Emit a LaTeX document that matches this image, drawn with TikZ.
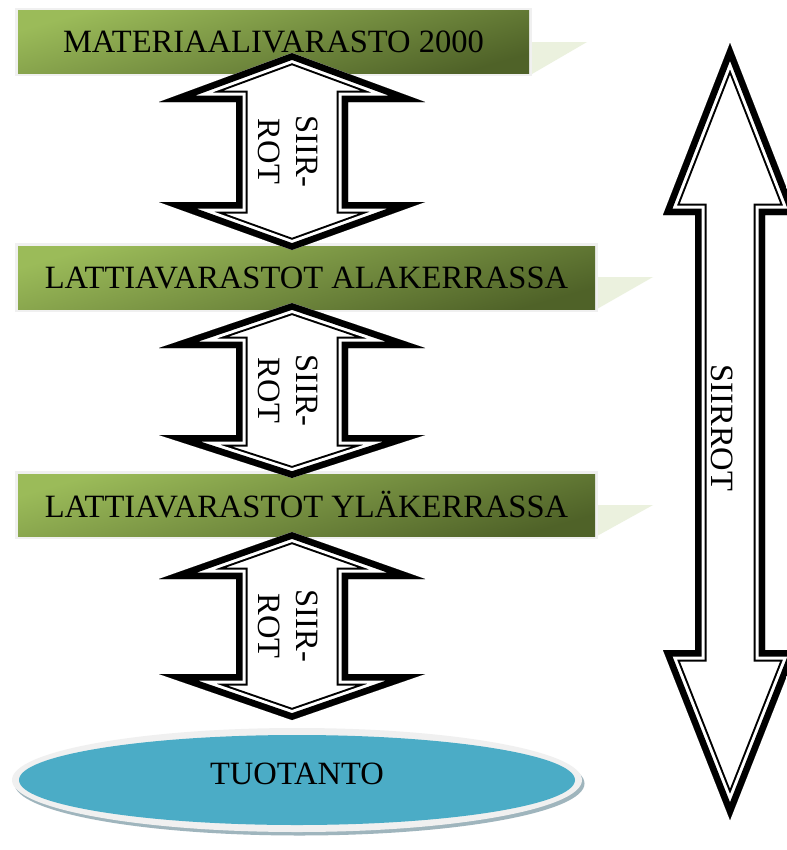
\documentclass[tikz,border=0pt]{standalone}
\usepackage{fontspec}
\setmainfont{Liberation Serif}
\definecolor{glight}{HTML}{9BBB59}
\definecolor{gdark}{HTML}{4F6228}
\definecolor{gpale}{HTML}{EBF1DE}
\definecolor{bordergray}{HTML}{F0F0F0}
\definecolor{ellblue}{HTML}{4BACC6}
\definecolor{shadowblue}{HTML}{9FB5BD}
\tikzset{
  boxborder/.style={fill=bordergray},
  greenfill/.style={top color=glight, bottom color=gdark, shading angle=16},
  boxtext/.style={font=\fontsize{24.4}{29}\selectfont, inner sep=0pt},
  rottext/.style={font=\fontsize{24.4}{29}\selectfont, rotate=-90, align=center, inner sep=0pt},
  palewedge/.style={fill=gpale},
  sharpjoin/.style={line join=miter, miter limit=30}
}
% compound (thick-thin) outline drawn inside the shape
\newcommand\comparrow[1]{%
  \fill[white] #1;
  \begin{scope}
    \clip #1;
    \draw[black, sharpjoin, line width=17.25pt] #1;
    \draw[white, sharpjoin, line width=14.25pt] #1;
    \draw[black, sharpjoin, line width=9.75pt] #1;
  \end{scope}}
% up-down arrow: centre x, top tip, upper head base, lower head base, bottom tip
\newcommand\udarrow[5]{%
  \comparrow{(#1,#2) -- ({#1+133},#3) -- ({#1+56},#3) -- ({#1+56},#4) -- ({#1+133},#4) -- (#1,#5) -- ({#1-133},#4) -- ({#1-56},#4) -- ({#1-56},#3) -- ({#1-133},#3) -- cycle}}
\begin{document}
\begin{tikzpicture}[x=0.75pt,y=-0.75pt]
\path[use as bounding box] (0,0) rectangle (787,850);
\clip (0,0) rectangle (787,850);
\fill[white] (0,0) rectangle (787,850);

% boxes
\fill[palewedge] (532,42) -- (587,42) -- (532,74) -- cycle;
\fill[boxborder] (15,7.5) rectangle (532,76);
\shade[greenfill] (18,10.5) rectangle (529,73.5);
\node[boxtext] (m1) at (273.5,41.5) {MATERIAALIVARASTO 2000};

\fill[palewedge] (597,277) -- (653,277) -- (597,309) -- cycle;
\fill[boxborder] (15,243) rectangle (597.5,311.5);
\shade[greenfill] (18,246) rectangle (595,309);
\node[boxtext] (m2) at (306.5,277.5) {LATTIAVARASTOT ALAKERRASSA};

\fill[palewedge] (597,505) -- (653,505) -- (597,536) -- cycle;
\fill[boxborder] (15,471) rectangle (597.5,539);
\shade[greenfill] (18,474) rectangle (595,536);
\node[boxtext] (m3) at (306.5,505) {LATTIAVARASTOT YLÄKERRASSA};

% ellipse
\fill[shadowblue] (299.5,783.5) ellipse [x radius=285, y radius=52];
\fill[bordergray] (297,780) ellipse [x radius=285, y radius=52];
\fill[ellblue] (297,780) ellipse [x radius=278, y radius=45];
\node[boxtext] (tuo) at (297,774) {TUOTANTO};

% small arrows
\udarrow{292}{53}{102}{202}{250}
\udarrow{292}{303}{348}{435}{478}
\udarrow{292}{532}{579}{674}{720}
\node[rottext] (s1) at (288,151.5) {SIIR-\\ROT};
\node[rottext] (s2) at (288,390.5) {SIIR-\\ROT};
\node[rottext] (s3) at (288,626) {SIIR-\\ROT};

% big arrow
\comparrow{(730,43) -- (797,215) -- (765,215) -- (765,650) -- (797,650) -- (730,820) -- (663,650) -- (695,650) -- (695,215) -- (663,215) -- cycle}
\node[rottext] (s4) at (722,428) {SIIRROT};
\end{tikzpicture}
\end{document}
